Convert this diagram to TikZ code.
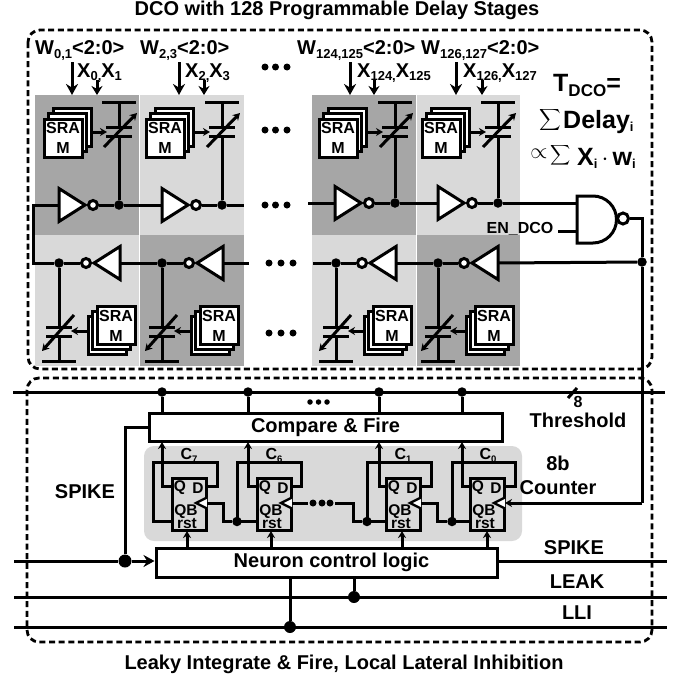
\documentclass[tikz,border=0pt]{standalone}
\usepackage{fontspec}
\setmainfont{Liberation Sans}
\usepackage{amsmath}
\usetikzlibrary{arrows.meta}

\newcommand{\low}[1]{\raisebox{-3.5pt}{\fontsize{13}{13}\selectfont #1}}
\newcommand{\lowbig}[1]{\raisebox{-5pt}{\fontsize{17}{17}\selectfont #1}}
\newcommand{\lowtiny}[1]{\raisebox{-2.5pt}{\fontsize{9.5}{10}\selectfont #1}}

\begin{document}
\begin{tikzpicture}[x=1pt,y=-1pt,
		wire/.style={line width=3pt},
		dashbox/.style={line width=2.8pt,dash pattern=on 6pt off 3.6pt,rounded corners=12pt},
		bigtip/.style={-{Stealth[length=11pt,width=12pt]}},
		midtip/.style={-{Stealth[length=9pt,width=11pt]}},
		smalltip/.style={-{Stealth[length=7pt,width=8pt]}},
		lab/.style={font=\fontsize{20}{23}\selectfont\bfseries,inner sep=0pt},
		biglab/.style={font=\fontsize{25}{28}\selectfont\bfseries,inner sep=0pt},
		fflab/.style={font=\fontsize{15.5}{17}\selectfont\bfseries,inner sep=0pt},
		clab/.style={font=\fontsize{16}{18}\selectfont\bfseries,inner sep=0pt,anchor=base},
		srambox/.style={draw,wire,fill=white,minimum size=38pt,inner sep=0pt,align=center,font=\fontsize{16}{20}\selectfont\bfseries},
		logicbox/.style={draw,wire,fill=white,inner sep=0pt,font=\fontsize{20}{23}\selectfont\bfseries},
		ffbox/.style={draw,wire,minimum width=34pt,minimum height=52pt,inner sep=0pt},
		bubble/.style={draw,wire,fill=white,circle,minimum size=9pt,inner sep=0pt},
		junction/.style={fill=black,circle,minimum size=9.5pt,inner sep=0pt},
		dotmark/.style={fill=black,circle,minimum size=7pt,inner sep=0pt}
	]
		\useasboundingbox (0,0) rectangle (676,680);
		\definecolor{celldark}{HTML}{A6A6A6}
		\definecolor{celllight}{HTML}{D9D9D9}
		
		\newcommand{\topcell}[7]{ % #1: name, #2: cell left, #3: fill, #4: sram left, #5: inverter x, #6: capacitor x, #7: wire y
			\fill[#3] (#2,95) rectangle (#2+103.5,235);
			\node[srambox] (#1sa) at (#4+29,127) {};
			\node[srambox] (#1sb) at (#4+24.5,132.5) {};
			\node[srambox] (#1sc) at (#4+20,138) {SRA\\M};
			\coordinate (#1in) at (#5,#7);
			\draw[wire,fill=white] (#5,#7-16.5) -- (#5+26,#7) -- (#5,#7+16.5) -- cycle;
			\node[bubble] (#1bub) at (#5+34,#7) {};
			\node[junction] (#1j) at (#6,#7) {};
			\draw[wire] (#1bub) -- (#1j);
			\coordinate (#1pa) at (#6,127);
			\coordinate (#1pb) at (#6,136);
			\coordinate (#1bar) at (#6,102);
			\draw[wire] (#6-17,102) -- (#6+17,102);
			\draw[wire] (#6-13,127) -- (#6+13,127);
			\draw[wire] (#6-13,136) -- (#6+13,136);
			\draw[wire] (#1bar) -- (#1pa);
			\draw[wire] (#1pb) -- (#1j);
			\draw[wire,smalltip] (#6-15,147) -- (#6+18,113);
			\coordinate (#1pin) at (#6-12,132);
			\draw[wire,smalltip] (#1sa.east |- #1pin) -- (#1pin);
		}
		
		\newcommand{\botcell}[6]{ % #1: name, #2: cell left, #3: fill, #4: sram left, #5: capacitor x, #6: inverter x
			\fill[#3] (#2,235) rectangle (#2+103.5,366);
			\node[srambox] (#1sa) at (#4+11,335.5) {};
			\node[srambox] (#1sb) at (#4+15.5,330.5) {};
			\node[srambox] (#1sc) at (#4+20,325.5) {SRA\\M};
			\coordinate (#1in) at (#6,263);
			\draw[wire,fill=white] (#6,246.5) -- (#6-26,263) -- (#6,279.5) -- cycle;
			\node[bubble] (#1bub) at (#6-34,263) {};
			\node[junction] (#1j) at (#5,263) {};
			\draw[wire] (#1bub) -- (#1j);
			\coordinate (#1pa) at (#5,327);
			\coordinate (#1pb) at (#5,336);
			\coordinate (#1bar) at (#5,361);
			\draw[wire] (#5-17,361) -- (#5+17,361);
			\draw[wire] (#5-13,327) -- (#5+13,327);
			\draw[wire] (#5-13,336) -- (#5+13,336);
			\draw[wire] (#1j) -- (#1pa);
			\draw[wire] (#1pb) -- (#1bar);
			\draw[wire,smalltip] (#5+15,315) -- (#5-17,351);
			\coordinate (#1pin) at (#5+12,331);
			\draw[wire,smalltip] (#1sa.west |- #1pin) -- (#1pin);
		}
		
		\newcommand{\topinput}[3]{ % #1: name, #2: W arrow x, #3: X arrow x
			\coordinate (#1wa) at (#2,62);
			\coordinate (#1wb) at (#2,95);
			\coordinate (#1xa) at (#3,80);
			\coordinate (#1xb) at (#3,95);
			\draw[wire,bigtip] (#1wa) -- (#1wb);
			\draw[wire,midtip] (#1xa) -- (#1xb);
		}
		
		\newcommand{\threedots}[5]{ % #1: name, #2: first x, #3: second x, #4: third x, #5: y
			\foreach \x [count=\i] in {#2,#3,#4} {
				\node[dotmark] (#1\i) at (\x,#5) {};
			}
		}
		
		\newcommand{\flipflop}[2]{ % #1: name, #2: left x
			\node[ffbox] (#1) at (#2+18,504) {};
			\coordinate (#1q) at (#2,486);
			\coordinate (#1d) at (#2+36,486);
			\coordinate (#1qb) at (#2,521.5);
			\coordinate (#1ck) at (#2+36,503);
			\node[fflab] (#1tq) at (#2+9,488) {Q};
			\node[fflab] (#1td) at (#2+27,488) {D};
			\node[fflab] (#1tqb) at (#2+15,512) {QB};
			\node[fflab] (#1tr) at (#2+16,524) {rst};
			\draw[line width=2.4pt,fill=white] (#2+36,497.5) -- (#2+25,503) -- (#2+36,508.5);
		}
		
		\newcommand{\ffloop}[3]{ % #1: name, #2: loop left x, #3: loop right x
			\coordinate (#1la) at (#2,462);
			\coordinate (#1lb) at (#3,462);
			\draw[wire] (#1qb) -| (#1la) -- (#1lb) |- (#1d);
		}
		
		%delay stages
		\topcell{ta}{35}{celldark}{43}{59}{119}{205}
		\topcell{tb}{140}{celllight}{145}{162}{222}{205}
		\topcell{tc}{312}{celldark}{318}{335}{395}{203}
		\topcell{td}{416.5}{celllight}{421}{438}{498}{203}
		\botcell{ba}{35}{celllight}{96}{59}{120}
		\botcell{bb}{140}{celldark}{199}{162}{223}
		\botcell{bc}{312}{celllight}{372}{336}{396}
		\botcell{bd}{416.5}{celldark}{474}{438}{498}
		
		\topinput{ia}{72}{97}
		\topinput{ib}{179}{204}
		\topinput{ic}{350}{374}
		\topinput{id}{456}{482}
		
		\node[lab,anchor=base west] (wa) at (35,54.5) {W\low{0,1}<2:0>};
		\node[lab,anchor=base west] (wb) at (140,54.5) {W\low{2,3}<2:0>};
		\node[lab,anchor=base west] (wc) at (297,54.5) {W\low{124,125}<2:0>};
		\node[lab,anchor=base west] (wd) at (421,54.5) {W\low{126,127}<2:0>};
		\node[lab,anchor=base west] (xa) at (77,77) {X\low{0,}X\low{1}};
		\node[lab,anchor=base west] (xb) at (185,77) {X\low{2,}X\low{3}};
		\node[lab,anchor=base west] (xc) at (357,77) {X\low{124,}X\low{125}};
		\node[lab,anchor=base west] (xd) at (463,77) {X\low{126,}X\low{127}};
		
		\threedots{da}{265}{275.5}{287}{67}
		\threedots{db}{265}{275.5}{287}{130}
		\threedots{dc}{265}{275.5}{287}{205}
		\threedots{dd}{269}{281}{293}{263}
		\threedots{de}{269}{281}{293}{333}
		
		%ring wires
		\coordinate (ringl) at (33,205);
		\coordinate (tbend) at (244,205);
		\coordinate (tcbeg) at (308,203);
		\coordinate (bbend) at (249,263);
		\coordinate (bcbeg) at (313,263);
		\draw[wire] (baj) -| (ringl) -- (tain);
		\draw[wire] (taj) -- (tbin);
		\draw[wire] (tbj) -- (tbend);
		\draw[wire] (tcbeg) -- (tcin);
		\draw[wire] (tcj) -- (tdin);
		\draw[wire] (bain) -- (bbj);
		\draw[wire] (bbin) -- (bbend);
		\draw[wire] (bcbeg) -- (bcj);
		\draw[wire] (bcin) -- (bdj);
		
		%nand gate
		\coordinate (nanda) at (577,203);
		\coordinate (nandb) at (577,231);
		\coordinate (enout) at (558,231);
		\coordinate (outc) at (642,218.5);
		\coordinate (clkin) at (642,503);
		\draw[wire,fill=white] (577,196) -- (593,196) arc [start angle=90, end angle=-90, radius=23.5pt] -- (577,243) -- cycle;
		\node[bubble,minimum size=11pt] (nandbub) at (623,218.5) {};
		\node[junction] (ringj) at (642,262) {};
		\draw[wire] (tdj) -- (nanda);
		\draw[wire] (enout) -- (nandb);
		\draw[wire] (nandbub) -- (outc) -- (ringj) -- (clkin);
		\draw[wire] (ringj) -- (bdin);
		\node[font=\fontsize{16}{18}\selectfont\bfseries,inner sep=0pt] (endco) at (520,229) {EN\_DCO};
		
		%delay formula
		\node[biglab,anchor=base west] (tdco) at (553,91) {T\lowbig{DCO}=};
		\node[scale=1.5,inner sep=0pt] (suma) at (550,120) {$\displaystyle\sum$};
		\node[biglab,anchor=base west] (delay) at (563,128) {Delay\low{i}};
		\node[scale=2.2,inner sep=0pt] (prop) at (539,154) {$\propto$};
		\node[scale=1.4,inner sep=0pt] (sumb) at (561,155) {$\displaystyle\sum$};
		\node[biglab,anchor=base west] (xw) at (577,165) {X\low{i}$\,\cdot\,$w\low{i}};
		
		%neuron block
		\fill[celllight,rounded corners=10pt] (144,446) rectangle (522,541);
		\node[logicbox,minimum width=353pt,minimum height=28pt] (cmp) at (325.5,427) {Compare \& Fire};
		\node[logicbox,minimum width=341pt,minimum height=29pt] (nlc) at (326.5,562.5) {\hspace*{10pt}Neuron control logic};
		
		\flipflop{fh}{171}
		\flipflop{fg}{256}
		\flipflop{fb}{385}
		\flipflop{fa}{469}
		\ffloop{fh}{153}{217}
		\ffloop{fg}{237}{301}
		\ffloop{fb}{367}{431}
		\ffloop{fa}{452}{515}
		
		\node[junction] (jg) at (237,521.5) {};
		\node[junction] (jb) at (367,521.5) {};
		\node[junction] (ja) at (452,521.5) {};
		
		%counter chain
		\coordinate (chaa) at (223,503);
		\coordinate (chab) at (308,503);
		\coordinate (chac) at (335,503);
		\coordinate (chad) at (353,503);
		\coordinate (chae) at (437,503);
		\draw[wire] (fhck) -- (chaa) |- (jg);
		\draw[wire] (fgqb) -- (jg);
		\draw[wire] (fgck) -- (chab);
		\draw[wire] (chac) -- (chad) |- (jb);
		\draw[wire] (fbqb) -- (jb);
		\draw[wire] (fbck) -- (chae) |- (ja);
		\draw[wire] (faqb) -- (ja);
		\draw[wire,smalltip] (clkin) -- (fack);
		\threedots{df}{313}{322}{330}{503}
		
		%q outputs and rst inputs
		\foreach \n/\x/\r in {fh/162/187,fg/248/271,fb/379/402,fa/462/487} {
			\coordinate (\n cup) at (\x,442);
			\coordinate (\n rst) at (\r,531);
			\coordinate (\n nlc) at (\r,548);
			\draw[wire,smalltip] (\n q) -| (\n cup);
			\draw[wire,smalltip] (\n nlc) -- (\n rst);
		}
		
		\node[clab] (ch) at (189,459.5) {C\lowtiny{7}};
		\node[clab] (cg) at (274,459.5) {C\lowtiny{6}};
		\node[clab] (cb) at (403,459.5) {C\lowtiny{1}};
		\node[clab] (ca) at (488,459.5) {C\lowtiny{0}};
		
		%threshold bus
		\coordinate (busl) at (13,392);
		\coordinate (busr) at (665,392);
		\coordinate (slasha) at (568,398);
		\coordinate (slashb) at (577,388);
		\draw[wire] (busl) -- (busr);
		\draw[wire] (slasha) -- (slashb);
		\foreach \n/\x in {a/162,b/248,c/379,d/462} {
			\node[junction] (bus\n) at (\x,392) {};
			\draw[wire] (bus\n) -- (cmp.north -| bus\n);
		}
		\foreach \x [count=\i] in {310,318.5,327} {
			\node[dotmark,minimum size=5.5pt] (dg\i) at (\x,402) {};
		}
		
		%spike, leak and lli lines
		\coordinate (spkl) at (14,561);
		\coordinate (spkr) at (667,561);
		\coordinate (leakl) at (14,597);
		\coordinate (leakr) at (667,597);
		\coordinate (llil) at (14,627);
		\coordinate (llir) at (667,627);
		\node[junction,minimum size=13pt] (spkj) at (125,561) {};
		\node[junction,minimum size=12pt] (leakj) at (354,597) {};
		\node[junction,minimum size=12pt] (llij) at (290,627) {};
		\draw[wire] (spkl) -- (spkj);
		\draw[wire,bigtip] (spkj) -- (nlc.west |- spkj);
		\draw[wire] (spkj) |- (cmp.west);
		\draw[wire] (nlc.east |- spkr) -- (spkr);
		\draw[wire] (leakl) -- (leakr);
		\draw[wire] (llil) -- (llir);
		\draw[wire] (leakj) -- (nlc.south -| leakj);
		\draw[wire] (llij) -- (nlc.south -| llij);
		
		%labels
		\node[lab] (dcotitle) at (337,10) {DCO with 128 Programmable Delay Stages};
		\node[lab] (liftitle) at (344,664) {Leaky Integrate \& Fire, Local Lateral Inhibition};
		\node[lab,font=\fontsize{16}{17}\selectfont\bfseries] (eight) at (578,402) {8};
		\node[lab] (thres) at (578,420) {Threshold};
		\node[lab] (ebit) at (558,463) {8b};
		\node[lab] (count) at (558,488) {Counter};
		\node[lab] (spka) at (85,492) {SPIKE};
		\node[lab] (spkb) at (574,548) {SPIKE};
		\node[lab] (leak) at (577,582) {LEAK};
		\node[lab] (lli) at (577,613) {LLI};
		
		%dashed frames
		\draw[dashbox] (28,30) rectangle (652,369);
		\draw[dashbox] (27,378) rectangle (652,642);
		
	\end{tikzpicture}
\end{document}
